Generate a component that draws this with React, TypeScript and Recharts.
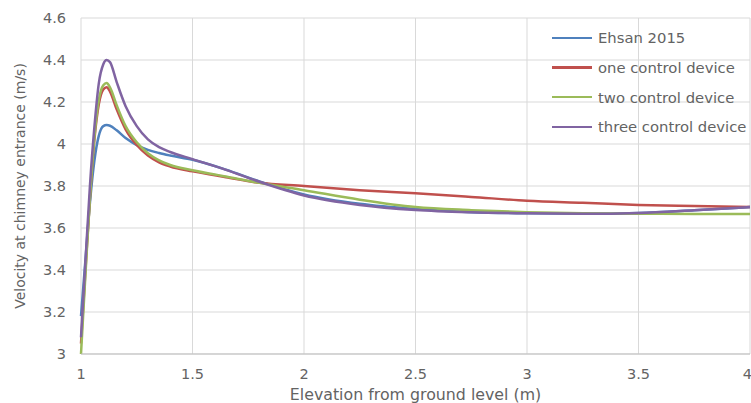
import { LineChart, Line, XAxis, YAxis, CartesianGrid, Legend } from "recharts";

// elevation (m)
const elevation = [1, 1.02, 1.04, 1.06, 1.08, 1.1, 1.115, 1.13, 1.16, 1.2, 1.25, 1.3, 1.35, 1.4, 1.5, 1.65, 1.8, 2, 2.25, 2.5, 2.75, 3, 3.25, 3.5, 3.75, 4];

// velocity at chimney entrance (m/s)
const ehsan2015 = [3.18, 3.45, 3.72, 3.92, 4.04, 4.085, 4.09, 4.087, 4.065, 4.028, 3.995, 3.972, 3.957, 3.945, 3.925, 3.878, 3.822, 3.76, 3.715, 3.69, 3.675, 3.67, 3.668, 3.672, 3.685, 3.7];
const oneDevice = [3.05, 3.4, 3.74, 4.02, 4.19, 4.26, 4.27, 4.25, 4.165, 4.07, 3.995, 3.945, 3.913, 3.893, 3.87, 3.842, 3.815, 3.8, 3.78, 3.765, 3.748, 3.73, 3.72, 3.71, 3.705, 3.7];
const twoDevices = [3.0, 3.38, 3.74, 4.03, 4.21, 4.28, 4.29, 4.27, 4.185, 4.085, 4.008, 3.956, 3.922, 3.9, 3.875, 3.845, 3.815, 3.78, 3.735, 3.7, 3.685, 3.675, 3.67, 3.668, 3.667, 3.667];
const threeDevices = [3.08, 3.44, 3.8, 4.08, 4.29, 4.38, 4.4, 4.39, 4.295, 4.18, 4.085, 4.022, 3.985, 3.962, 3.928, 3.877, 3.82, 3.755, 3.71, 3.686, 3.675, 3.67, 3.668, 3.672, 3.685, 3.7];

const xTicks = [1, 1.5, 2, 2.5, 3, 3.5, 4];
const yTicks = [3, 3.2, 3.4, 3.6, 3.8, 4, 4.2, 4.4, 4.6];

const series = [
  { key: "ehsan", name: "Ehsan 2015", color: "#4f81bd", values: ehsan2015 },
  { key: "one", name: "one control device", color: "#c0504d", values: oneDevice },
  { key: "two", name: "two control device", color: "#9bbb59", values: twoDevices },
  { key: "three", name: "three control device", color: "#8064a2", values: threeDevices },
];

const data = elevation.map((x, i) => {
  const row: Record<string, number> = { x };
  series.forEach((s) => (row[s.key] = s.values[i]));
  return row;
});

const font = "'DejaVu Sans', sans-serif";
const textColor = "#636363";

function LegendBox() {
  return (
    <div style={{ fontFamily: font, fontSize: 14.8, color: textColor }}>
      {series.map((s) => (
        <div key={s.key} style={{ display: "flex", alignItems: "center", height: 29.7, whiteSpace: "nowrap" }}>
          <span style={{ display: "inline-block", width: 40, height: 2.5, background: s.color, marginRight: 6 }} />
          {s.name}
        </div>
      ))}
    </div>
  );
}

export default function App() {
  return (
    <div style={{ position: "absolute", left: 0, top: 0, background: "#fff" }}>
      <LineChart width={751} height={403} data={data} margin={{ top: 18, right: 1, bottom: 0, left: 0 }}>
        <CartesianGrid stroke="#d9d9d9" strokeWidth={1} />
        <XAxis
          dataKey="x"
          type="number"
          domain={[1, 4]}
          ticks={xTicks}
          height={49}
          tickSize={0}
          tickMargin={15}
          stroke="#bfbfbf"
          tick={{ fontSize: 14.5, fill: textColor, fontFamily: font }}
          label={{ value: "Elevation from ground level (m)", position: "insideBottom", offset: 3, fontSize: 15.8, fill: textColor, fontFamily: font }}
        />
        <YAxis
          type="number"
          domain={[3, 4.6]}
          ticks={yTicks}
          width={81}
          tickSize={0}
          tickMargin={15}
          axisLine={false}
          tick={{ fontSize: 14.5, fill: textColor, fontFamily: font }}
          label={{ value: "Velocity at chimney entrance (m/s)", angle: -90, position: "insideLeft", offset: 20, fontSize: 14, fill: textColor, fontFamily: font, style: { textAnchor: "middle" } }}
        />
        <Legend
          layout="vertical"
          align="center"
          verticalAlign="middle"
          content={() => <LegendBox />}
          wrapperStyle={{ top: 23, left: 552, width: 200 }}
        />
        {series.map((s) => (
          <Line
            key={s.key}
            dataKey={s.key}
            name={s.name}
            type="monotone"
            stroke={s.color}
            strokeWidth={2.5}
            dot={false}
            isAnimationActive={false}
          />
        ))}
      </LineChart>
    </div>
  );
}
